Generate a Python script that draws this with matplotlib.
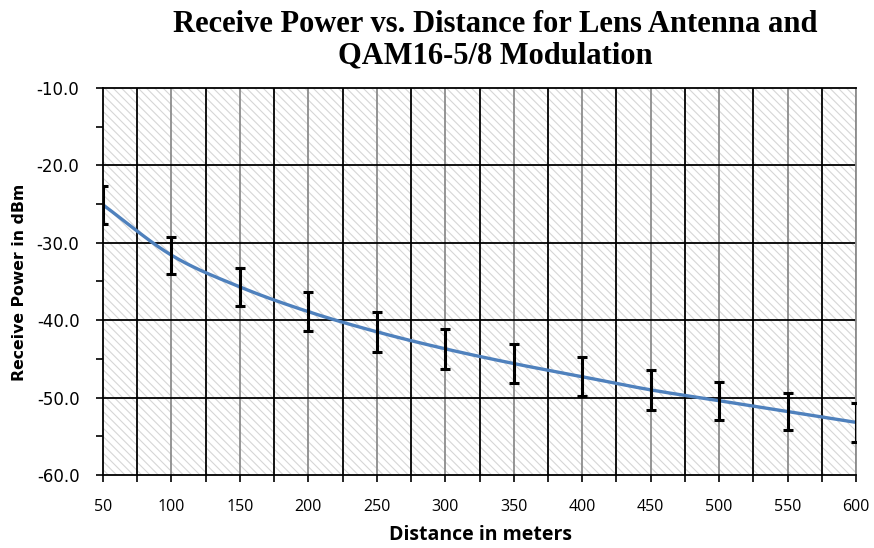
import numpy as np
import matplotlib
matplotlib.use("Agg")
import matplotlib.pyplot as plt
from matplotlib.patches import Rectangle

# ---- data ----
distance = [50, 100, 150, 200, 250, 300, 350, 400, 450, 500, 550, 600]
power = [-25.1, -31.6, -35.7, -38.9, -41.5, -43.7, -45.6, -47.3, -49.0, -50.4, -51.8, -53.2]
error = [2.5, 2.4, 2.45, 2.5, 2.55, 2.55, 2.55, 2.55, 2.55, 2.45, 2.45, 2.55]
x_ticklabels = ["50", "100", "150", "200", "250", "300", "350", "400", "450", "500", "550", "600"]
y_ticks = [-10, -20, -30, -40, -50, -60]
y_ticklabels = ["-10.0", "-20.0", "-30.0", "-40.0", "-50.0", "-60.0"]

title = "Receive Power vs. Distance for Lens Antenna and\nQAM16-5/8 Modulation"
xlabel = "Distance in meters"
ylabel = "Receive Power in dBm"


def smooth(xs, ys, n=30):
    """Catmull-Rom spline through the data points (Excel-like smoothed line)."""
    xs = np.asarray(xs, float)
    ys = np.asarray(ys, float)
    P = np.column_stack([xs, ys])
    P = np.vstack([2 * P[0] - P[1], P, 2 * P[-1] - P[-2]])
    out = []
    t = np.linspace(0, 1, n)[:, None]
    for i in range(1, len(P) - 2):
        p0, p1, p2, p3 = P[i - 1], P[i], P[i + 1], P[i + 2]
        seg = 0.5 * ((2 * p1) + (-p0 + p2) * t + (2 * p0 - 5 * p1 + 4 * p2 - p3) * t ** 2
                     + (-p0 + 3 * p1 - 3 * p2 + p3) * t ** 3)
        out.append(seg if i == 1 else seg[1:])
    out = np.vstack(out)
    return out[:, 0], out[:, 1]


W, H = 874, 548
fig = plt.figure(figsize=(W / 100, H / 100), dpi=100)
ax = fig.add_axes([103 / W, (H - 475) / H, 753 / W, 387 / H])

ax.set_xlim(50, 600)
ax.set_ylim(-60, -10)

# hatched background
plt.rcParams['hatch.linewidth'] = 0.8
bg = Rectangle((0, 0), 1, 1, transform=ax.transAxes, facecolor="white",
               edgecolor="#d6d6d6", hatch="\\" * 4, linewidth=0, zorder=0)
ax.add_patch(bg)

# gridlines
for xv in range(75, 600, 50):
    ax.axvline(xv, color="black", lw=1.3, zorder=1)
for xv in range(100, 601, 50):
    ax.axvline(xv, color="#8c8c8c", lw=1.3, zorder=1)
for yv in y_ticks[1:-1]:
    ax.axhline(yv, color="black", lw=1.3, zorder=1)

# curve and error bars
sx, sy = smooth(distance, power)
ax.plot(sx, sy, color="#4F81BD", lw=2.4, zorder=3, solid_capstyle="round")
ax.errorbar(distance, power, yerr=error, fmt="none", ecolor="black",
            elinewidth=2.2, capsize=3.8, capthick=2.2, zorder=4)

# spines
for s in ["left", "top", "bottom"]:
    ax.spines[s].set_color("black")
    ax.spines[s].set_linewidth(1.3)
ax.spines["right"].set_color("#8c8c8c")
ax.spines["right"].set_linewidth(1.3)

# ticks
ax.set_xticks(distance)
ax.set_xticklabels(x_ticklabels, fontfamily="Open Sans", fontsize=11.5)
ax.set_xticks(np.arange(75, 600, 50), minor=True)
ax.set_yticks(y_ticks)
ax.set_yticklabels(y_ticklabels, fontfamily="DejaVu Sans", fontsize=12)
ax.set_yticks(np.arange(-55, -10, 10), minor=True)
ax.tick_params(axis="both", which="both", direction="out", length=5, width=1.2, color="black")
ax.tick_params(axis="x", which="major", pad=12)
ax.tick_params(axis="y", which="major", pad=12)

fig.text(20 / W, 1 - 282 / H, ylabel, rotation=90, ha="center", va="center",
         fontfamily="DejaVu Sans", fontweight="bold", fontsize=11.3)
fig.text(481 / W, 1 - 535 / H, xlabel, ha="center", va="center",
         fontfamily="Open Sans", fontweight="bold", fontsize=14)
fig.text(495 / W, 1 - 40 / H, title, ha="center", va="center",
         fontfamily="Liberation Serif", fontweight="bold", fontsize=22, linespacing=1.12)

fig.savefig("out.png", dpi=100)
